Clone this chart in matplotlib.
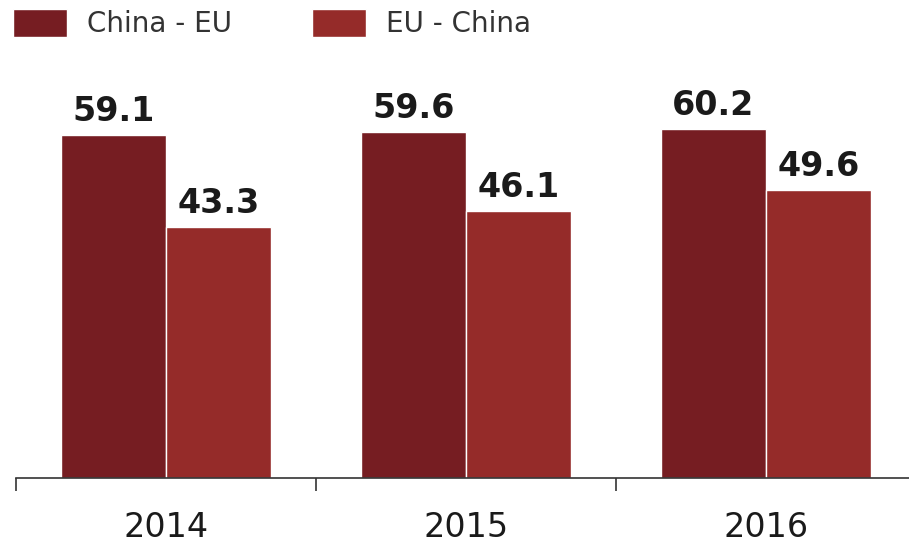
import numpy as np
import matplotlib
matplotlib.use("Agg")
import matplotlib.pyplot as plt

years = ["2014", "2015", "2016"]
china_eu = [59.1, 59.6, 60.2]
eu_china = [43.3, 46.1, 49.6]
series_names = ["China - EU", "EU - China"]
colors = ["#761d22", "#952b29"]

W, H = 909, 543
fig = plt.figure(figsize=(W / 100, H / 100), dpi=100)
ax = fig.add_axes([16 / W, 65 / H, 900 / W, 406 / H])

x = np.arange(len(years))
w = 0.35
b1 = ax.bar(x - w / 2, china_eu, w, color=colors[0], edgecolor="white", linewidth=1, label=series_names[0])
b2 = ax.bar(x + w / 2, eu_china, w, color=colors[1], edgecolor="white", linewidth=1, label=series_names[1])

# value labels on top of each bar
for bars, vals in [(b1, china_eu), (b2, eu_china)]:
    for rect, v in zip(bars, vals):
        ax.annotate(f"{v:.1f}", (rect.get_x() + rect.get_width() / 2, v),
                    xytext=(0, 5), textcoords="offset points", ha="center", va="bottom",
                    fontsize=24, fontweight="bold", color="#1a1a1a", family="DejaVu Sans")

ax.set_xlim(-0.5, 2.5)
ax.set_ylim(0, 70)
ax.set_xticks(np.arange(-0.5, 3, 1))
ax.set_xticklabels([])
ax.set_xticks(x, minor=True)
ax.set_xticklabels(years, minor=True, fontsize=24, color="#1a1a1a", family="DejaVu Sans")
ax.tick_params(axis="x", which="major", direction="out", length=9, width=1.2, color="#333333")
ax.tick_params(axis="x", which="minor", length=0, pad=24)
ax.set_yticks([])
for s in ["top", "right", "left"]:
    ax.spines[s].set_visible(False)
ax.spines["bottom"].set_color("#333333")
ax.spines["bottom"].set_linewidth(1.2)

fig.legend(handles=[b1, b2], labels=series_names, loc="upper left",
           bbox_to_anchor=(13 / W, 1 - 9 / H), ncol=2, frameon=False,
           borderpad=0, borderaxespad=0,
           prop={"family": "DejaVu Sans", "size": 20},
           handlelength=1.94, handleheight=1.15, handletextpad=0.72,
           columnspacing=2.9, labelcolor="#333333")

fig.savefig("out.png", dpi=100)
